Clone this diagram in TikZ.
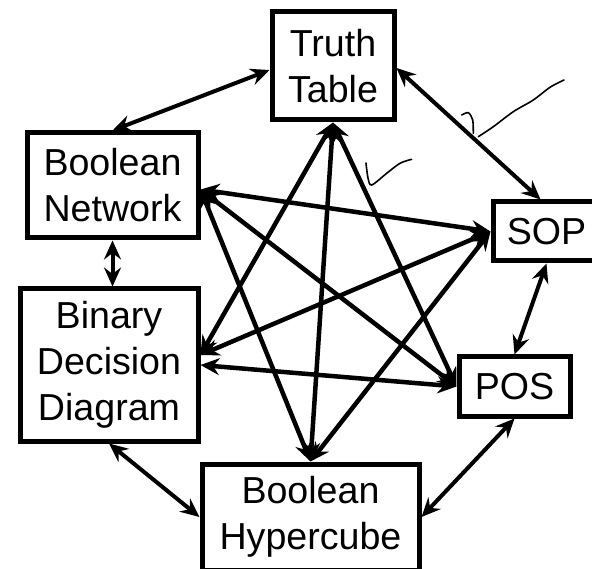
\documentclass[tikz,border=0pt]{standalone}
\usepackage{fontspec}
\setmainfont{Liberation Sans}
\usetikzlibrary{arrows.meta}

\begin{document}
\begin{tikzpicture}[x=1pt, y=-1pt,
    box/.style={draw, rectangle, line width=5pt, inner sep=0pt, align=center,
                font=\fontsize{37.6}{46}\selectfont},
    link/.style={{Stealth[length=19pt,width=17pt,inset=6.5pt]}-{Stealth[length=19pt,width=17pt,inset=6.5pt]},
                 line width=4.5pt},
    ring/.style={link, line width=4pt}]
            % Keep the page the size of the picture.
            \useasboundingbox (0,0) rectangle (592,569);

            % The six ways to write a boolean function.
            \node[box, minimum width=122pt, minimum height=108pt] (tt)  at (333,66)    {Truth\\Table};
            \node[box, minimum width=171pt, minimum height=105pt] (bn)  at (112.5,185.5) {Boolean\\Network};
            \node[box, minimum width=178pt, minimum height=152pt] (bdd) at (109,365)   {Binary\\Decision\\Diagram};
            \node[box, minimum width=107pt, minimum height=59pt]  (sop) at (546.5,231.5) {SOP};
            \node[box, minimum width=111pt, minimum height=59pt]  (pos) at (514.5,386.5) {POS};
            \node[box, minimum width=217pt, minimum height=106pt] (bh)  at (310.5,517) {Boolean\\Hypercube};

            % Where the star arrows meet the two left boxes.
            \coordinate (bnport)  at ([yshift=-4pt]bn.east);
            \coordinate (bddport) at ([yshift=10pt]bdd.east);

            % Outer ring, each box to its neighbour.
            \draw[ring] (bn.north) -- ([yshift=-4pt]tt.west);
            \draw[ring] ([yshift=-2pt]tt.east) -- ([xshift=-6pt]sop.north);
            \draw[ring] (sop.south) -- (pos.north);
            \draw[ring] (pos.south) -- (bh.east);
            \draw[ring] (bh.west) -- (bdd.south);
            \draw[ring] (bn.south) -- (bn.south |- bdd.north);

            % Inner star, every box to every box that is not its neighbour.
            \foreach \a/\b in {tt.south/bddport, tt.south/bh.north, tt.south/pos.west,
                               bnport/sop.west, bnport/pos.west, bnport/bh.north,
                               bddport/sop.west, bdd.east/pos.west, sop.west/bh.north} {
                \draw[link] (\a) -- (\b);
            }

            % Pen marks written over the slide.
            \draw[line width=1.6pt, line cap=round] plot[smooth] coordinates
                {(461.7,115) (468.3,112.7) (472.7,120) (473.3,133.3)};
            \draw[line width=1.6pt, line cap=round] plot[smooth] coordinates
                {(478.3,136.7) (493.3,126.7) (513.3,111.7) (533.3,100) (550,87.3) (564,80)};
            \draw[line width=1.6pt, line cap=round] plot[smooth] coordinates
                {(366,163) (368,178) (371.7,185) (386.7,173.3) (400,163.3) (411.7,159.3)};
        \end{tikzpicture}
\end{document}
